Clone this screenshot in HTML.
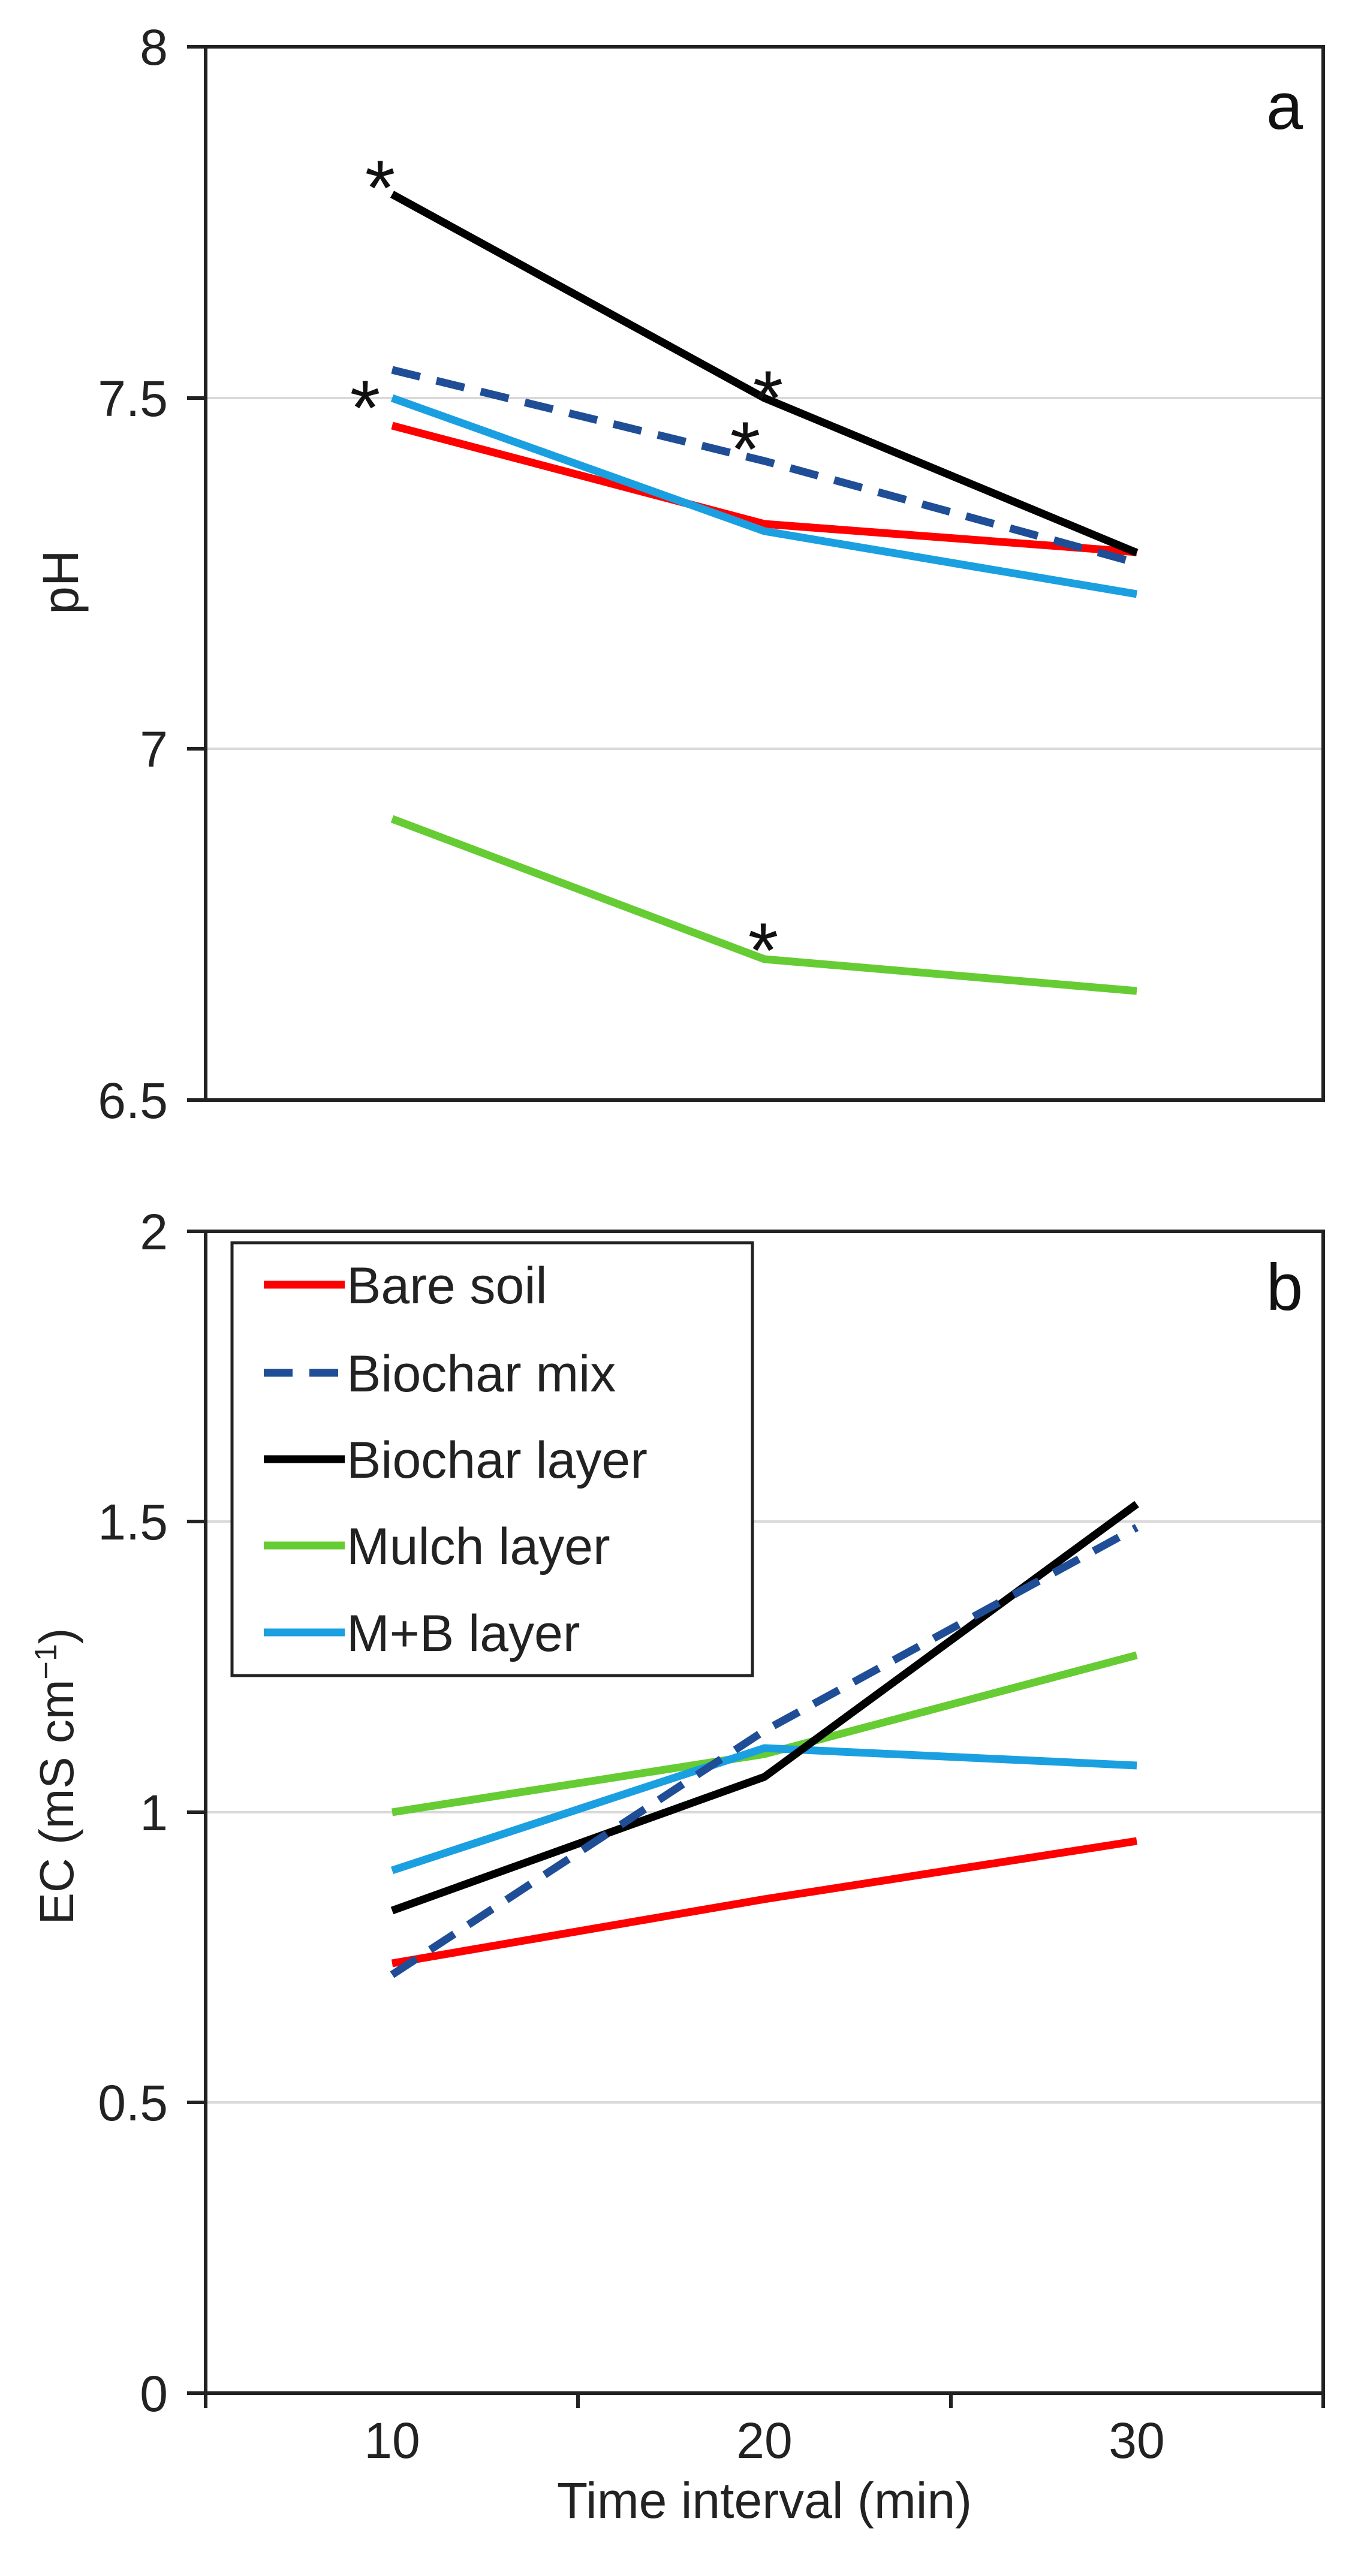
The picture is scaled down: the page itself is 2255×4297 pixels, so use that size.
<!DOCTYPE html>
<html><head><meta charset="utf-8"><style>html,body{margin:0;padding:0;background:#fff}</style></head>
<body>
<svg width="2255" height="4292" viewBox="0 0 2255 4292" xmlns="http://www.w3.org/2000/svg" font-family="Liberation Sans, Arial, sans-serif">
<!-- Panel a -->
<g stroke="#d9d9d9" stroke-width="4">
<line x1="343" y1="664" x2="2207" y2="664"/>
<line x1="343" y1="1249" x2="2207" y2="1249"/>
</g>
<rect x="343" y="78" width="1864" height="1757" fill="none" stroke="#222" stroke-width="6"/>
<g stroke="#222" stroke-width="6">
<line x1="312" y1="78" x2="343" y2="78"/><line x1="312" y1="664" x2="343" y2="664"/>
<line x1="312" y1="1249" x2="343" y2="1249"/><line x1="312" y1="1835" x2="343" y2="1835"/>
</g>
<g font-size="84" fill="#222" text-anchor="end">
<text x="280" y="108">8</text><text x="280" y="694">7.5</text>
<text x="280" y="1279">7</text><text x="280" y="1865">6.5</text>
</g>
<text transform="translate(130,971) rotate(-90)" font-size="84" fill="#222" text-anchor="middle">pH</text>
<text x="2112" y="215" font-size="110" fill="#111">a</text>
<g fill="none" stroke-width="13" stroke-linejoin="round">
<polyline stroke="#66cc33" points="654,1366 1275,1600 1896,1653"/>
<polyline stroke="#ff0000" points="654,710 1275,874 1896,921"/>
<polyline stroke="#1aa0e0" points="654,664 1275,886 1896,991"/>
<polyline stroke="#1f4e96" stroke-dasharray="48,28" points="654,617 1275,769 1896,939"/>
<polyline stroke="#000" points="654,324 1275,664 1896,922"/>
</g>
<g font-size="130" fill="#111" text-anchor="middle">
<text x="634" y="358">*</text><text x="609" y="725">*</text>
<text x="1281" y="709">*</text><text x="1243" y="794">*</text><text x="1273" y="1630">*</text>
</g>
<!-- Panel b -->
<g stroke="#d9d9d9" stroke-width="4">
<line x1="343" y1="2538" x2="2207" y2="2538"/>
<line x1="343" y1="3023" x2="2207" y2="3023"/>
<line x1="343" y1="3507" x2="2207" y2="3507"/>
</g>
<rect x="343" y="2054" width="1864" height="1938" fill="none" stroke="#222" stroke-width="6"/>
<g stroke="#222" stroke-width="6">
<line x1="312" y1="2054" x2="343" y2="2054"/><line x1="312" y1="2538" x2="343" y2="2538"/>
<line x1="312" y1="3023" x2="343" y2="3023"/><line x1="312" y1="3507" x2="343" y2="3507"/>
<line x1="312" y1="3992" x2="343" y2="3992"/>
<line x1="343" y1="3992" x2="343" y2="4017"/><line x1="964" y1="3992" x2="964" y2="4017"/>
<line x1="1586" y1="3992" x2="1586" y2="4017"/><line x1="2207" y1="3992" x2="2207" y2="4017"/>
</g>
<g font-size="84" fill="#222" text-anchor="end">
<text x="280" y="2084">2</text><text x="280" y="2568">1.5</text>
<text x="280" y="3053">1</text><text x="280" y="3537">0.5</text><text x="280" y="4022">0</text>
</g>
<g font-size="84" fill="#222" text-anchor="middle">
<text x="654" y="4100">10</text><text x="1275" y="4100">20</text><text x="1896" y="4100">30</text>
<text x="1275" y="4200">Time interval (min)</text>
</g>
<text transform="translate(122,2963) rotate(-90)" font-size="80" fill="#222" text-anchor="middle">EC (mS cm<tspan font-size="52" dy="-28">−1</tspan><tspan dy="28">)</tspan></text>
<text x="2112" y="2185" font-size="110" fill="#111">b</text>
<g fill="none" stroke-width="13" stroke-linejoin="round">
<polyline stroke="#ff0000" points="654,3275 1275,3168 1896,3071"/>
<polyline stroke="#66cc33" points="654,3023 1275,2926 1896,2761"/>
<polyline stroke="#1aa0e0" points="654,3120 1275,2916 1896,2945"/>
<polyline stroke="#000" points="654,3187 1275,2964 1896,2509"/>
<polyline stroke="#1f4e96" stroke-dasharray="48,28" points="654,3294 1275,2887 1896,2548"/>
</g>
<rect x="387" y="2073" width="868" height="722" fill="#fff" stroke="#222" stroke-width="5"/>
<g stroke-width="13">
<line x1="440" y1="2143" x2="575" y2="2143" stroke="#ff0000"/>
<line x1="440" y1="2290" x2="575" y2="2290" stroke="#1f4e96" stroke-dasharray="48,28"/>
<line x1="440" y1="2434" x2="575" y2="2434" stroke="#000"/>
<line x1="440" y1="2578" x2="575" y2="2578" stroke="#66cc33"/>
<line x1="440" y1="2723" x2="575" y2="2723" stroke="#1aa0e0"/>
</g>
<g font-size="86" fill="#222">
<text x="578" y="2174">Bare soil</text><text x="578" y="2321">Biochar mix</text>
<text x="578" y="2465">Biochar layer</text><text x="578" y="2609">Mulch layer</text>
<text x="578" y="2754">M+B layer</text>
</g>
</svg>
</body></html>
